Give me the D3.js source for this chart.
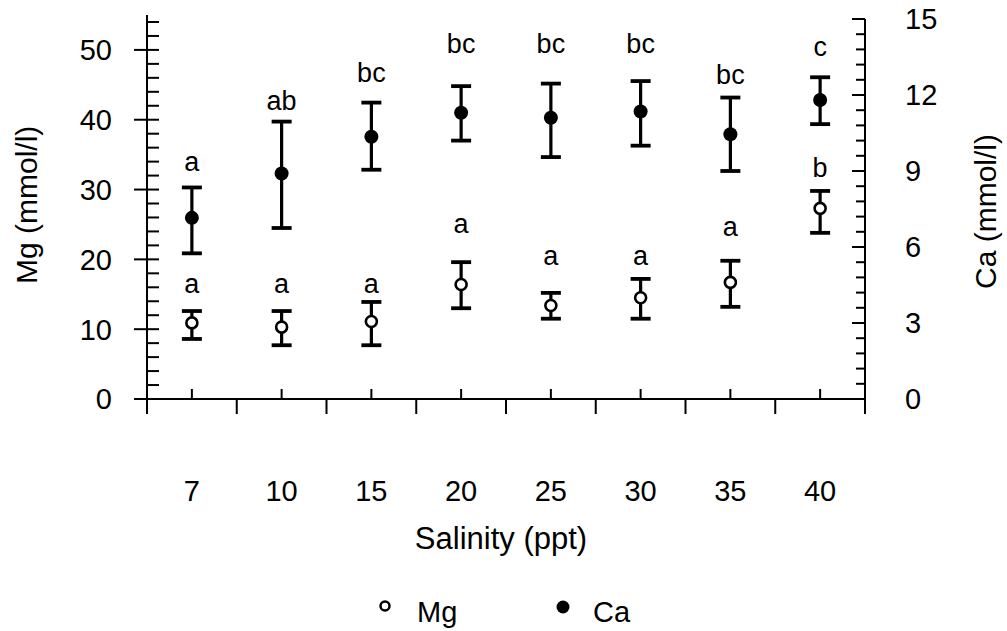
<!DOCTYPE html>
<html>
<head>
<meta charset="utf-8">
<script src="https://cdn.jsdelivr.net/npm/d3@7"></script>
<style>
  html, body { margin: 0; padding: 0; background: #fff; }
  svg { display: block; }
  text { font-family: "Liberation Sans", Arial, Helvetica, sans-serif; fill: #000; }
</style>
</head>
<body>
<svg id="chart" width="1007" height="631"></svg>
<script>
// ---------- data ----------
const salinity = ["7", "10", "15", "20", "25", "30", "35", "40"];

const mgMean = [10.9, 10.3, 11.1, 16.4, 13.4, 14.5, 16.7, 27.3];
const mgLow  = [8.6, 7.7, 7.7, 13.0, 11.5, 11.5, 13.2, 23.8];
const mgHigh = [12.6, 12.6, 13.9, 19.6, 15.2, 17.2, 19.8, 29.8];
const mgLetters = ["a", "a", "a", "a", "a", "a", "a", "b"];
const mgLetterAt = [15.2, 15.2, 15.2, 23.8, 19.2, 19.2, 23.4, 31.8];

const caMean = [7.15, 8.9, 10.35, 11.3, 11.1, 11.35, 10.45, 11.8];
const caLow  = [5.75, 6.75, 9.05, 10.2, 9.55, 10.0, 9.0, 10.85];
const caHigh = [8.35, 10.95, 11.7, 12.35, 12.45, 12.55, 11.9, 12.7];
const caLetters = ["a", "ab", "bc", "bc", "bc", "bc", "bc", "c"];
const caLetterAt = [9.0, 11.4, 12.5, 13.65, 13.65, 13.65, 12.45, 13.55];

const mgTicks = [0, 10, 20, 30, 40, 50];
const caTicks = [0, 3, 6, 9, 12, 15];

// ---------- layout ----------
const svg = d3.select("#chart");
const left = 147, right = 865, bottom = 399;

const x = d3.scaleBand().domain(salinity).range([left, right]).padding(0);
const yMg = d3.scaleLinear().domain([0, 55]).range([bottom, 15]);
const yCa = d3.scaleLinear().domain([0, 15]).range([bottom, 19]);
const cx = d => x(d) + x.bandwidth() / 2;

const axisStroke = 2;
const tickFont = "29px";

// ---------- left axis ----------
const gl = svg.append("g");
gl.append("line").attr("x1", left).attr("x2", left)
  .attr("y1", bottom).attr("y2", yMg(55))
  .attr("stroke", "#000").attr("stroke-width", axisStroke);
const mgMinor = d3.range(2, 55, 2).filter(v => v % 10 !== 0);
gl.selectAll(".mgMinor").data(mgMinor).enter().append("line")
  .attr("x1", left).attr("x2", left + 12)
  .attr("y1", d => yMg(d)).attr("y2", d => yMg(d))
  .attr("stroke", "#000").attr("stroke-width", 2);
gl.selectAll(".mgMajor").data(mgTicks).enter().append("line")
  .attr("x1", left - 13).attr("x2", left + 12)
  .attr("y1", d => yMg(d)).attr("y2", d => yMg(d))
  .attr("stroke", "#000").attr("stroke-width", 2);
gl.selectAll(".mgLab").data(mgTicks).enter().append("text")
  .attr("x", 112).attr("y", d => yMg(d))
  .attr("dy", "0.36em")
  .attr("text-anchor", "end")
  .style("font-size", tickFont)
  .text(d => d);

// ---------- right axis ----------
const gr = svg.append("g");
gr.append("line").attr("x1", right).attr("x2", right)
  .attr("y1", bottom + 15).attr("y2", yCa(15))
  .attr("stroke", "#000").attr("stroke-width", axisStroke);
const caMinor = d3.range(1, 25).map(i => i * 0.6).filter(v => Math.abs(v / 3 - Math.round(v / 3)) > 1e-6);
gr.selectAll(".caMinor").data(caMinor).enter().append("line")
  .attr("x1", right - 9).attr("x2", right)
  .attr("y1", d => yCa(d)).attr("y2", d => yCa(d))
  .attr("stroke", "#000").attr("stroke-width", 2);
gr.selectAll(".caMajor").data(caTicks).enter().append("line")
  .attr("x1", right - 13).attr("x2", right)
  .attr("y1", d => yCa(d)).attr("y2", d => yCa(d))
  .attr("stroke", "#000").attr("stroke-width", 2);
gr.selectAll(".caLab").data(caTicks).enter().append("text")
  .attr("x", 905).attr("y", d => yCa(d))
  .attr("dy", "0.36em")
  .attr("text-anchor", "start")
  .style("font-size", tickFont)
  .text(d => d);

// ---------- x axis ----------
const gx = svg.append("g");
gx.append("line").attr("x1", left - 13).attr("x2", right)
  .attr("y1", bottom).attr("y2", bottom)
  .attr("stroke", "#000").attr("stroke-width", axisStroke);
const bounds = salinity.map(d => x(d)).concat([right]);
gx.selectAll(".xDown").data(bounds).enter().append("line")
  .attr("x1", d => d).attr("x2", d => d)
  .attr("y1", bottom).attr("y2", bottom + 15)
  .attr("stroke", "#000").attr("stroke-width", 2);
gx.selectAll(".xUp").data(salinity).enter().append("line")
  .attr("x1", d => cx(d)).attr("x2", d => cx(d))
  .attr("y1", bottom).attr("y2", bottom - 10)
  .attr("stroke", "#000").attr("stroke-width", 2);
gx.selectAll(".xLab").data(salinity).enter().append("text")
  .attr("x", d => cx(d)).attr("y", 501)
  .attr("text-anchor", "middle")
  .style("font-size", tickFont)
  .text(d => d);

// ---------- axis titles ----------
svg.append("text")
  .attr("x", 501).attr("y", 549)
  .attr("text-anchor", "middle")
  .style("font-size", "31px")
  .text("Salinity (ppt)");
svg.append("text")
  .attr("transform", "translate(37,284) rotate(-90)")
  .attr("text-anchor", "start")
  .style("font-size", "30px")
  .text("Mg (mmol/l)");
svg.append("text")
  .attr("transform", "translate(996,289) rotate(-90)")
  .attr("text-anchor", "start")
  .style("font-size", "30px")
  .text("Ca (mmol/l)");

// ---------- error bars ----------
const capHalf = 10;
function drawSeries(cls, mean, lo, hi, yScale) {
  const g = svg.append("g").attr("class", cls);
  const idx = d3.range(salinity.length);
  g.selectAll(".stem").data(idx).enter().append("line")
    .attr("x1", i => cx(salinity[i])).attr("x2", i => cx(salinity[i]))
    .attr("y1", i => yScale(lo[i])).attr("y2", i => yScale(hi[i]))
    .attr("stroke", "#000").attr("stroke-width", 3.2);
  g.selectAll(".capHi").data(idx).enter().append("line")
    .attr("x1", i => cx(salinity[i]) - capHalf).attr("x2", i => cx(salinity[i]) + capHalf)
    .attr("y1", i => yScale(hi[i])).attr("y2", i => yScale(hi[i]))
    .attr("stroke", "#000").attr("stroke-width", 3.8);
  g.selectAll(".capLo").data(idx).enter().append("line")
    .attr("x1", i => cx(salinity[i]) - capHalf).attr("x2", i => cx(salinity[i]) + capHalf)
    .attr("y1", i => yScale(lo[i])).attr("y2", i => yScale(lo[i]))
    .attr("stroke", "#000").attr("stroke-width", 3.8);
  return g;
}
const gMg = drawSeries("mg", mgMean, mgLow, mgHigh, yMg);
const gCa = drawSeries("ca", caMean, caLow, caHigh, yCa);

gMg.selectAll(".pt").data(d3.range(salinity.length)).enter().append("circle")
  .attr("cx", i => cx(salinity[i])).attr("cy", i => yMg(mgMean[i]))
  .attr("r", 5.5)
  .attr("fill", "#fff").attr("stroke", "#000").attr("stroke-width", 2.6);
gCa.selectAll(".pt").data(d3.range(salinity.length)).enter().append("circle")
  .attr("cx", i => cx(salinity[i])).attr("cy", i => yCa(caMean[i]))
  .attr("r", 7)
  .attr("fill", "#000");

// ---------- significance letters ----------
svg.selectAll(".mgLet").data(d3.range(salinity.length)).enter().append("text")
  .attr("x", i => cx(salinity[i])).attr("y", i => yMg(mgLetterAt[i]))
  .attr("text-anchor", "middle")
  .style("font-size", "27px")
  .text(i => mgLetters[i]);
svg.selectAll(".caLet").data(d3.range(salinity.length)).enter().append("text")
  .attr("x", i => cx(salinity[i])).attr("y", i => yCa(caLetterAt[i]))
  .attr("text-anchor", "middle")
  .style("font-size", "27px")
  .text(i => caLetters[i]);

// ---------- legend ----------
const lg = svg.append("g");
lg.append("circle").attr("cx", 385).attr("cy", 606).attr("r", 4.5)
  .attr("fill", "#fff").attr("stroke", "#000").attr("stroke-width", 2.5);
lg.append("text").attr("x", 417).attr("y", 622).style("font-size", "29px").text("Mg");
lg.append("circle").attr("cx", 563).attr("cy", 607).attr("r", 6.5).attr("fill", "#000");
lg.append("text").attr("x", 593).attr("y", 622).style("font-size", "29px").text("Ca");
</script>
</body>
</html>
